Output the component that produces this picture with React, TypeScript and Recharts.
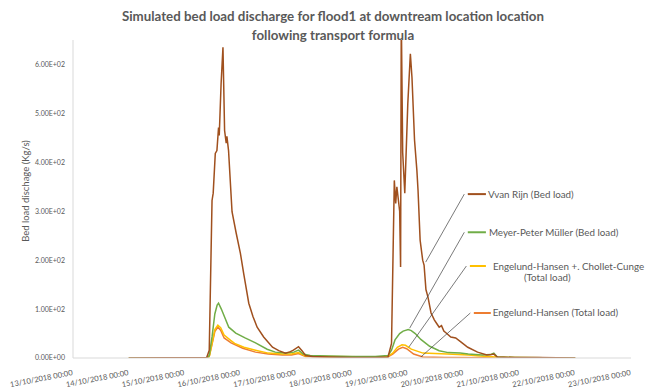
import { LineChart, Line, XAxis, YAxis, ReferenceLine } from 'recharts';

// hours counted from 13/10/2018 00:00
const dayTicks = [0, 24, 48, 72, 96, 120, 144, 168, 192, 216, 240];
const dayLabels = [
  '13/10/2018 00:00', '14/10/2018 00:00', '15/10/2018 00:00', '16/10/2018 00:00',
  '17/10/2018 00:00', '18/10/2018 00:00', '19/10/2018 00:00', '20/10/2018 00:00',
  '21/10/2018 00:00', '22/10/2018 00:00', '23/10/2018 00:00',
];
const yTicks = [0, 100, 200, 300, 400, 500, 600];

const vanRijnHours = [
  24, 57.5, 58.6, 59.8, 60.3, 61.2, 61.9, 62.6, 62.9, 63.7, 64.5, 65.2, 65.9, 66.2, 66.9,
  68.4, 70.2, 72, 73.4, 75.6, 77.4, 79.2, 82, 85.8, 88.5, 91.4, 93.5, 94.8, 97, 98.5,
  100, 103, 110, 120, 130, 135.5, 137, 138.2, 138.8, 139.3, 140.5, 140.9, 141.2, 141.8, 142.7,
  144, 145.1, 145.8, 146.9, 147.9, 148.4, 149.3, 150, 150.4, 151, 151.8, 152.7, 154, 155.4, 156.5,
  157.5, 158.5, 159.5, 160.5, 162.5, 164.6, 166.8, 169.8, 174, 178, 180, 181, 182.5, 190, 200, 216,
];
const vanRijnValues = [
  0, 1, 16, 322, 337, 418, 424, 471, 455, 561, 635, 465, 439, 453, 424,
  299, 255, 214, 173, 112, 85, 63, 43, 22, 15, 10, 13, 16, 23, 15,
  5, 3, 2, 1, 1, 2, 30, 363, 316, 350, 300, 186, 700, 420, 337,
  520, 622, 573, 445, 384, 343, 241, 215, 200, 190, 140, 124, 92, 78, 70,
  63, 66, 55, 51, 43, 41, 33, 22, 12, 6, 7, 8, 2, 1, 1, 0,
];

const mpmHours = [
  24, 57.5, 58.6, 59.8, 61, 62, 62.6, 63.8, 64.5, 67, 70, 74, 78.5, 83.5, 87,
  91.5, 95, 97, 99, 102, 110, 120, 130, 135.5, 137, 138.5, 140.5, 142, 144.2, 145.5,
  147.2, 149.6, 153.4, 157.5, 161.4, 166.5, 170, 176, 179.5, 181, 182.5, 190, 216,
];
const mpmValues = [
  0, 0, 5, 43, 90, 108, 112, 100, 92, 63, 51, 41, 31, 18, 12,
  10, 12, 16, 8, 5, 4, 3, 3, 5, 16, 37, 50, 55, 58, 56,
  50, 38, 24, 15, 11, 10, 8, 6, 7, 10, 2, 1, 0,
];

const ehccHours = [
  24, 57.5, 58.6, 59.8, 61, 62.3, 63.5, 65, 67.8, 69.5, 73.5, 78.5, 84, 90, 94,
  97, 100, 110, 135, 137.5, 139.5, 141.5, 143, 145.5, 150.5, 161, 170, 175, 182, 190, 216,
];
const ehccValues = [
  0, 0, 3, 30, 58, 67, 62, 47, 36, 30, 22, 16, 10, 8, 8,
  11, 4, 3, 2, 10, 22, 27, 26, 18, 10, 8, 6, 4, 2, 1, 0,
];

const ehHours = [
  24, 57.5, 58.6, 59.8, 61, 62.3, 63.5, 65, 68, 73, 78.5, 84, 90, 94, 97,
  100, 110, 135, 137.5, 140, 141.8, 143.5, 146.5, 150.5, 160, 216,
];
const ehValues = [
  0, 0, 3, 28, 54, 63, 57, 41, 31, 20, 12, 8, 6, 6, 9,
  3, 2, 1, 8, 18, 22, 19, 8, 2, 1, 0,
];

const toPoints = (hours: number[], values: number[]) =>
  hours.map((h, i) => ({ h, v: values[i] }));

const series = [
  { name: 'Engelund-Hansen (Total load)', color: '#ED7D31', data: toPoints(ehHours, ehValues) },
  { name: 'Engelund-Hansen +. Chollet-Cunge (Total load)', color: '#FFC000', data: toPoints(ehccHours, ehccValues) },
  { name: 'Meyer-Peter Müller (Bed load)', color: '#70AD47', data: toPoints(mpmHours, mpmValues) },
  { name: 'Vvan Rijn (Bed load)', color: '#A0501E', data: toPoints(vanRijnHours, vanRijnValues) },
];

// callout labels: key swatch and leader line to the curve
const callouts = [
  { lines: ['Vvan Rijn (Bed load)'], color: '#A0501E', swatch: [169.8, 177.6], level: 335, target: [151.7, 196], gap: 2 },
  { lines: ['Meyer-Peter Müller (Bed load)'], color: '#70AD47', swatch: [169.8, 177.6], level: 257, target: [144.8, 61], gap: 3 },
  { lines: ['Engelund-Hansen +. Chollet-Cunge', '(Total load)'], color: '#FFC000', swatch: [170.7, 177.6], level: 188, target: [144.4, 22], gap: 7 },
  { lines: ['Engelund-Hansen (Total load)'], color: '#ED7D31', swatch: [172.4, 179.7], level: 92, target: [149.6, 2], gap: 2 },
];

const formatSci = (v: number) => {
  const e = v === 0 ? 0 : Math.floor(Math.log10(v));
  const m = v / Math.pow(10, e);
  return `${m.toFixed(2)}E+${String(e).padStart(2, '0')}`;
};

const DateTick = ({ x, y, index }: any) => (
  <g transform={`translate(${x},${y + 9})`}>
    <text textAnchor="end" transform="rotate(-11)" fontSize={7.6} fill="#595959">
      {dayLabels[index]}
    </text>
  </g>
);

const CalloutLabel = ({ viewBox, lines, gap }: any) => {
  if (!viewBox) return null;
  const x = viewBox.x + viewBox.width + gap;
  const y = viewBox.y + 3.5;
  return (
    <text x={x} y={y} fontSize={9.8} fill="#595959">
      {lines.map((l: string, i: number) => (
        <tspan key={l} x={i === 0 ? x : x + 31} dy={i === 0 ? 0 : 11}>{l}</tspan>
      ))}
    </text>
  );
};

export default function App() {
  return (
    <div style={{ position: 'absolute', left: 0, top: 0, width: 660, height: 390, background: '#fff', fontFamily: 'Lato, sans-serif' }}>
      <LineChart width={660} height={390} margin={{ top: 40, right: 29, bottom: 0, left: 13 }}>
        <XAxis
          dataKey='h'
          type='number'
          domain={[0, 240]}
          ticks={dayTicks}
          height={32}
          tick={<DateTick />}
          tickLine={false}
          stroke='#D9D9D9'
          allowDuplicatedCategory={false}
        />
        <YAxis
          type='number'
          domain={[0, 650]}
          ticks={yTicks}
          allowDataOverflow
          width={60}
          tickFormatter={formatSci}
          tick={{ fontSize: 7, fill: '#595959' }}
          tickLine={false}
          stroke='#D9D9D9'
        />
        {series.map((s) => (
          <Line
            key={s.name}
            data={s.data}
            dataKey='v'
            name={s.name}
            type='linear'
            stroke={s.color}
            strokeWidth={1.5}
            dot={false}
            isAnimationActive={false}
          />
        ))}
        {callouts.map((c) => (
          <ReferenceLine
            key={c.lines[0] + '-leader'}
            segment={[{ x: c.swatch[0] - 1.5, y: c.level }, { x: c.target[0], y: c.target[1] }]}
            stroke='#404040'
            strokeWidth={0.7}
            ifOverflow='visible'
          />
        ))}
        {callouts.map((c) => (
          <ReferenceLine
            key={c.lines[0]}
            segment={[{ x: c.swatch[0], y: c.level }, { x: c.swatch[1], y: c.level }]}
            stroke={c.color}
            strokeWidth={2}
            ifOverflow='visible'
            label={<CalloutLabel lines={c.lines} gap={c.gap} />}
          />
        ))}
      </LineChart>
      <svg width={660} height={390} style={{ position: 'absolute', left: 0, top: 0, pointerEvents: 'none' }}>
        <text x={333} y={21} textAnchor='middle' fontSize={13.3} fontWeight='bold' fill='#595959'>
          Simulated bed load discharge for flood1 at downtream location location
        </text>
        <text x={333} y={40} textAnchor='middle' fontSize={13.3} fontWeight='bold' fill='#595959'>
          following transport formula
        </text>
        <text transform='translate(29,191) rotate(-90)' textAnchor='middle' fontSize={9.5} fill='#595959'>
          Bed load dischage (Kg/s)
        </text>
      </svg>
    </div>
  );
}
